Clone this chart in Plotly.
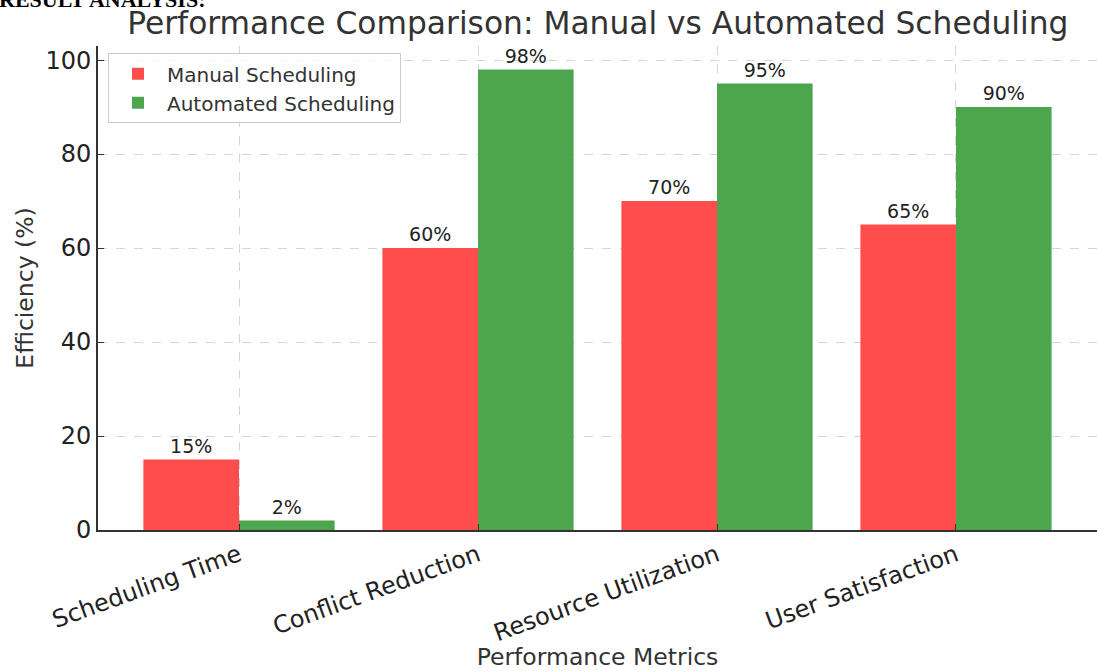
import plotly.graph_objects as go

categories = ["Scheduling Time", "Conflict Reduction", "Resource Utilization", "User Satisfaction"]
manual = [15, 60, 70, 65]
automated = [2, 98, 95, 90]
series_names = ["Manual Scheduling", "Automated Scheduling"]
y_ticks = [0, 20, 40, 60, 80, 100]

FONT = "DejaVu Sans"
RED = "#FF4D4D"
GREEN = "#4DA64D"

fig = go.Figure()
for name, vals, col in [(series_names[0], manual, RED), (series_names[1], automated, GREEN)]:
    fig.add_trace(go.Bar(
        x=categories, y=vals, name=name,
        marker=dict(color=col, line=dict(width=0)),
        text=[f"{v}%" for v in vals], textposition="outside",
        textfont=dict(family=FONT, size=19, color="#222"),
        constraintext="none", cliponaxis=False,
    ))

fig.update_layout(
    width=1097, height=671,
    margin=dict(l=98, r=0, t=46, b=138),
    paper_bgcolor="white", plot_bgcolor="white",
    barmode="group", bargap=0.2, bargroupgap=0,
    font=dict(family=FONT, color="#222"),
    title=dict(text="Performance Comparison: Manual vs Automated Scheduling",
               x=0.545, xanchor="center", xref="container",
               y=1 - 23 / 671, yanchor="middle", yref="container",
               font=dict(family=FONT, size=31.3, color="#333")),
    legend=dict(x=0.01, y=0.985, xanchor="left", yanchor="top",
                bgcolor="rgba(255,255,255,0.85)", bordercolor="#cccccc", borderwidth=1,
                font=dict(family=FONT, size=20, color="#333"),
                itemwidth=48, traceorder="normal"),
    showlegend=True,
)

fig.update_xaxes(
    range=[-0.59, 3.59], showline=True, linecolor="#333", linewidth=2,
    ticks="inside", ticklen=6, tickcolor="#333", tickangle=-20,
    tickfont=dict(family=FONT, size=24, color="#222"),
    showgrid=True, gridcolor="#d5d5d5", griddash="dash", gridwidth=1,
    title=dict(text="Performance Metrics", font=dict(family=FONT, size=23.5, color="#333"), standoff=7),
    zeroline=False,
)
fig.update_yaxes(
    range=[0, 103], tickvals=y_ticks, showline=True, linecolor="#333", linewidth=2,
    ticks="inside", ticklen=6, tickcolor="#333",
    tickfont=dict(family=FONT, size=24, color="#222"),
    showgrid=True, gridcolor="#d5d5d5", griddash="dash", gridwidth=1,
    title=dict(text="Efficiency (%)", font=dict(family=FONT, size=23.5, color="#333"), standoff=5),
    zeroline=False,
)

fig.add_annotation(
    text="<b>RESULT ANALYSIS:</b>", xref="paper", yref="paper",
    x=(207 - 98) / 999, y=(533 - 14) / 487, xanchor="right", yanchor="bottom",
    showarrow=False, font=dict(family="Liberation Serif", size=22, color="black"),
)

fig.write_html("out.html")
